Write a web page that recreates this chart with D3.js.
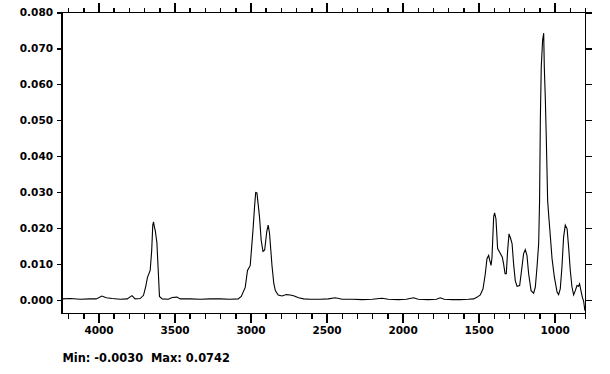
<!DOCTYPE html>
<html><head><meta charset="utf-8">
<script src="https://cdn.jsdelivr.net/npm/d3@7"></script>
<style>
body{margin:0;background:#fff;}
svg{display:block;}
text{font-family:"DejaVu Sans",Verdana,sans-serif;font-weight:bold;}
</style></head>
<body><svg id="c" width="610" height="374"></svg>
<script>
// Wavenumbers (cm-1) and absorbance
const wavenumbers = [4239,4186,4120,4055,4015,3978,3949,3910,3857,3811,3780,3759,3726,3704,3689,3678,3660,3650,3643,3638,3632,3627,3616,3607,3599,3581,3541,3515,3484,3462,3397,3331,3265,3199,3134,3081,3061,3035,3020,3002,2984,2973,2966,2958,2949,2941,2930,2918,2907,2893,2884,2875,2859,2847,2837,2818,2793,2765,2739,2712,2684,2651,2607,2541,2489,2443,2397,2331,2265,2199,2136,2094,2028,1976,1928,1897,1831,1778,1752,1726,1673,1620,1568,1533,1509,1489,1471,1456,1445,1434,1428,1418,1412,1401,1395,1386,1375,1357,1344,1336,1326,1318,1309,1300,1291,1280,1270,1259,1247,1230,1215,1204,1193,1182,1171,1155,1138,1127,1116,1105,1099,1094,1088,1079,1072,1068,1061,1055,1046,1039,1033,1017,1002,984,974,963,952,941,930,918,908,897,886,875,864,853,843,836,825,818,809,801];
const absorbance = [0.0003,0.0004,0.0002,0.0003,0.0003,0.0011,0.0006,0.0004,0.0002,0.0003,0.0012,0.0003,0.0004,0.0013,0.0038,0.0063,0.0082,0.0138,0.0208,0.0217,0.0202,0.0194,0.0160,0.0082,0.0010,0.0003,0.0002,0.0007,0.0008,0.0003,0.0003,0.0002,0.0003,0.0003,0.0002,0.0003,0.0010,0.0035,0.0082,0.0096,0.0194,0.0263,0.0299,0.0298,0.0263,0.0231,0.0166,0.0135,0.0139,0.0191,0.0208,0.0185,0.0096,0.0046,0.0026,0.0014,0.0011,0.0015,0.0014,0.0011,0.0006,0.0003,0.0002,0.0002,0.0003,0.0006,0.0002,0.0002,0.0001,0.0002,0.0005,0.0002,0.0001,0.0002,0.0006,0.0002,0.0001,0.0002,0.0006,0.0002,0.0001,0.0001,0.0002,0.0003,0.0008,0.0014,0.0031,0.0073,0.0115,0.0124,0.0112,0.0096,0.0119,0.0231,0.0242,0.0226,0.0143,0.0129,0.0119,0.0101,0.0073,0.0073,0.0138,0.0184,0.0173,0.0157,0.0101,0.0054,0.0038,0.0040,0.0091,0.0129,0.0140,0.0124,0.0073,0.0026,0.0019,0.0036,0.0091,0.0157,0.0277,0.0500,0.0648,0.0723,0.0742,0.0648,0.0556,0.0453,0.0277,0.0235,0.0203,0.0115,0.0064,0.0022,0.0015,0.0031,0.0091,0.0175,0.0208,0.0198,0.0147,0.0082,0.0036,0.0014,0.0026,0.0040,0.0038,0.0045,0.0022,0.0008,-0.0004,-0.0030];
const xMajorTicks = [4000,3500,3000,2500,2000,1500,1000];
const xMinorTicks = [4200,4100,3900,3800,3700,3600,3400,3300,3200,3100,2900,2800,2700,2600,2400,2300,2200,2100,1900,1800,1700,1600,1400,1300,1200,1100,900,800];
const yTicks = [0.000,0.010,0.020,0.030,0.040,0.050,0.060,0.070,0.080];
const statsLabel = "Min: -0.0030  Max: 0.0742";

const svg = d3.select("#c");
const L=62, R=585.5, T=12.3, B=313.5;
const x = d3.scaleLinear().domain([4240,797]).range([L,R]);
const y = d3.scaleLinear().domain([-0.00376,0.080]).range([B,T]);

function style(g){
  g.select(".domain").remove();
  g.selectAll("line").attr("stroke","#000").attr("stroke-width",1.5).attr("shape-rendering","crispEdges");
  g.selectAll("text").attr("fill","#000").style("font-size","10.5px").style("font-weight","bold");
}
// bottom
svg.append("g").attr("transform",`translate(0,${B})`)
  .call(d3.axisBottom(x).tickValues(xMajorTicks).tickSize(9).tickPadding(4.5).tickFormat(d3.format("d"))).call(style);
svg.append("g").attr("transform",`translate(0,${B})`)
  .call(d3.axisBottom(x).tickValues(xMinorTicks).tickSize(5).tickFormat("")).call(style);
// top
svg.append("g").attr("transform",`translate(0,${T})`)
  .call(d3.axisTop(x).tickValues(xMajorTicks).tickSize(9).tickFormat("")).call(style);
svg.append("g").attr("transform",`translate(0,${T})`)
  .call(d3.axisTop(x).tickValues(xMinorTicks).tickSize(4).tickFormat("")).call(style);
// left
svg.append("g").attr("transform",`translate(${L},0)`)
  .call(d3.axisLeft(y).tickValues(yTicks).tickSize(5).tickPadding(4).tickFormat(d3.format(".3f"))).call(style);
// right
svg.append("g").attr("transform",`translate(${R},0)`)
  .call(d3.axisRight(y).tickValues(yTicks).tickSize(6).tickFormat("")).call(style);

// frame
svg.append("rect").attr("x",L).attr("y",T).attr("width",R-L).attr("height",B-T)
  .attr("fill","none").attr("stroke","#000").attr("stroke-width",1.5).attr("shape-rendering","crispEdges");

// spectrum
const data = wavenumbers.map((w,i)=>[w,absorbance[i]]);
svg.append("path").datum(data)
  .attr("d", d3.line().x(d=>x(d[0])).y(d=>y(d[1])))
  .attr("fill","none").attr("stroke","#000").attr("stroke-width",1.1);

svg.append("text").attr("x",L+0.5).attr("y",362).text(statsLabel)
  .style("font-size","11.4px").style("white-space","pre").attr("fill","#000");
</script></body></html>
